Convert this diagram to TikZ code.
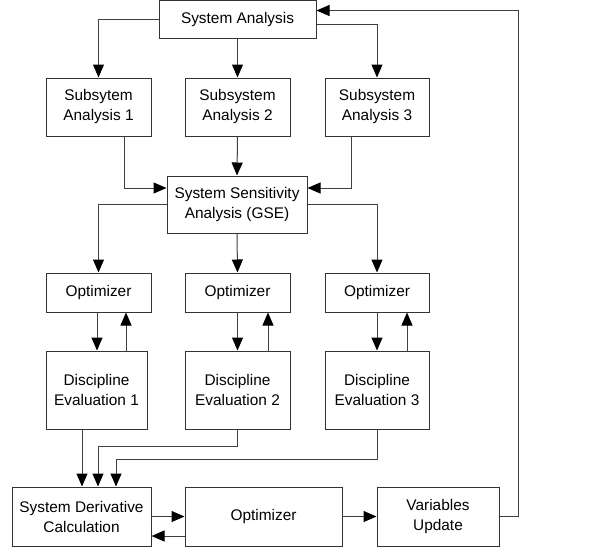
\documentclass[tikz,border=0pt]{standalone}
\usepackage{fontspec}
\setmainfont{Liberation Sans}
\usetikzlibrary{arrows.meta}
\begin{document}
\begin{tikzpicture}[x=1pt,y=-1pt,
  box/.style={draw=black!80,line width=1pt,fill=white,inner sep=0pt,align=center,
    font=\fontsize{15.4}{20}\selectfont},
  arr/.style={draw=black!75,line width=1pt,-{Triangle[length=13pt,width=11pt,color=black]}},
  ln/.style={draw=black!75,line width=1pt}]
\useasboundingbox[fill=white] (0,0) rectangle (608,550);
\node[box,minimum width=157pt,minimum height=38pt] (SA) at (237.5,19.5) {System Analysis};
\node[box,minimum width=105pt,minimum height=58pt] (S1) at (98.5,107) {Subsytem\\Analysis 1};
\node[box,minimum width=105pt,minimum height=58pt] (S2) at (237.5,107) {Subsystem\\Analysis 2};
\node[box,minimum width=104pt,minimum height=58pt] (S3) at (377,107) {Subsystem\\Analysis 3};
\node[box,minimum width=140pt,minimum height=57pt] (GSE) at (237,204.5) {System Sensitivity\\Analysis (GSE)};
\node[box,minimum width=105pt,minimum height=39pt] (O1) at (98.5,292.5) {Optimizer};
\node[box,minimum width=105pt,minimum height=39pt] (O2) at (237.5,292.5) {Optimizer};
\node[box,minimum width=104pt,minimum height=39pt] (O3) at (377,292.5) {Optimizer};
\node[box,minimum width=101pt,minimum height=78pt] (D1) at (96.5,390) {Discipline\\Evaluation 1};
\node[box,minimum width=105pt,minimum height=78pt] (D2) at (237.5,390) {Discipline\\Evaluation 2};
\node[box,minimum width=104pt,minimum height=78pt] (D3) at (377,390) {Discipline\\Evaluation 3};
\node[box,minimum width=139pt,minimum height=59pt] (SDC) at (81.5,516.5) {System Derivative\\Calculation};
\node[box,minimum width=157pt,minimum height=59pt] (O4) at (263.5,516.5) {Optimizer};
\node[box,minimum width=122pt,minimum height=59pt] (VU) at (438,516.5) {Variables\\Update};
% system analysis to subsystems
\draw[arr] (SA.west) -| (S1.north);
\draw[arr] (SA.south) -- (S2.north);
\draw[arr] ([yshift=-5pt]SA.east) -| (S3.north);
% subsystems to GSE
\draw[arr] ([xshift=25.5pt]S1.south) |- ([yshift=16.5pt]GSE.west);
\draw[arr] (S2.south) -- (GSE.north);
\draw[arr] ([xshift=-26pt]S3.south) |- ([yshift=16.5pt]GSE.east);
% GSE to optimizers
\draw[arr] (GSE.west) -| (O1.north);
\draw[arr] (GSE.south) -- (O2.north);
\draw[arr] (GSE.east) -| (O3.north);
% optimizer <-> discipline
\draw[arr] ([xshift=-1.5pt]O1.south) -- ([xshift=-1.5pt]O1.south |- D1.north);
\draw[arr] ([xshift=27.5pt]O1.south |- D1.north) -- ([xshift=27.5pt]O1.south);
\draw[arr] (O2.south) -- (D2.north);
\draw[arr] ([xshift=30.5pt]O2.south |- D2.north) -- ([xshift=30.5pt]O2.south);
\draw[arr] (O3.south) -- (D3.north);
\draw[arr] ([xshift=30pt]O3.south |- D3.north) -- ([xshift=30pt]O3.south);
% disciplines to system derivative
\draw[arr] ([xshift=-14.5pt]D1.south) -- ([xshift=-14.5pt]D1.south |- SDC.north);
\draw[arr] (D2.south) -- ++(0,17) -| ([xshift=16.5pt]SDC.north);
\draw[arr] (D3.south) -- ++(0,30) -| ([xshift=34.5pt]SDC.north);
% bottom row
\draw[arr] (SDC.east) -- (O4.west);
\draw[arr] ([yshift=-19.5pt]O4.west) -- ([yshift=-19.5pt]SDC.east);
\draw[arr] (O4.east) -- (VU.west);
\draw[arr] (VU.east) -- ++(19,0) |- ([yshift=9pt]SA.east);
\end{tikzpicture}
\end{document}
